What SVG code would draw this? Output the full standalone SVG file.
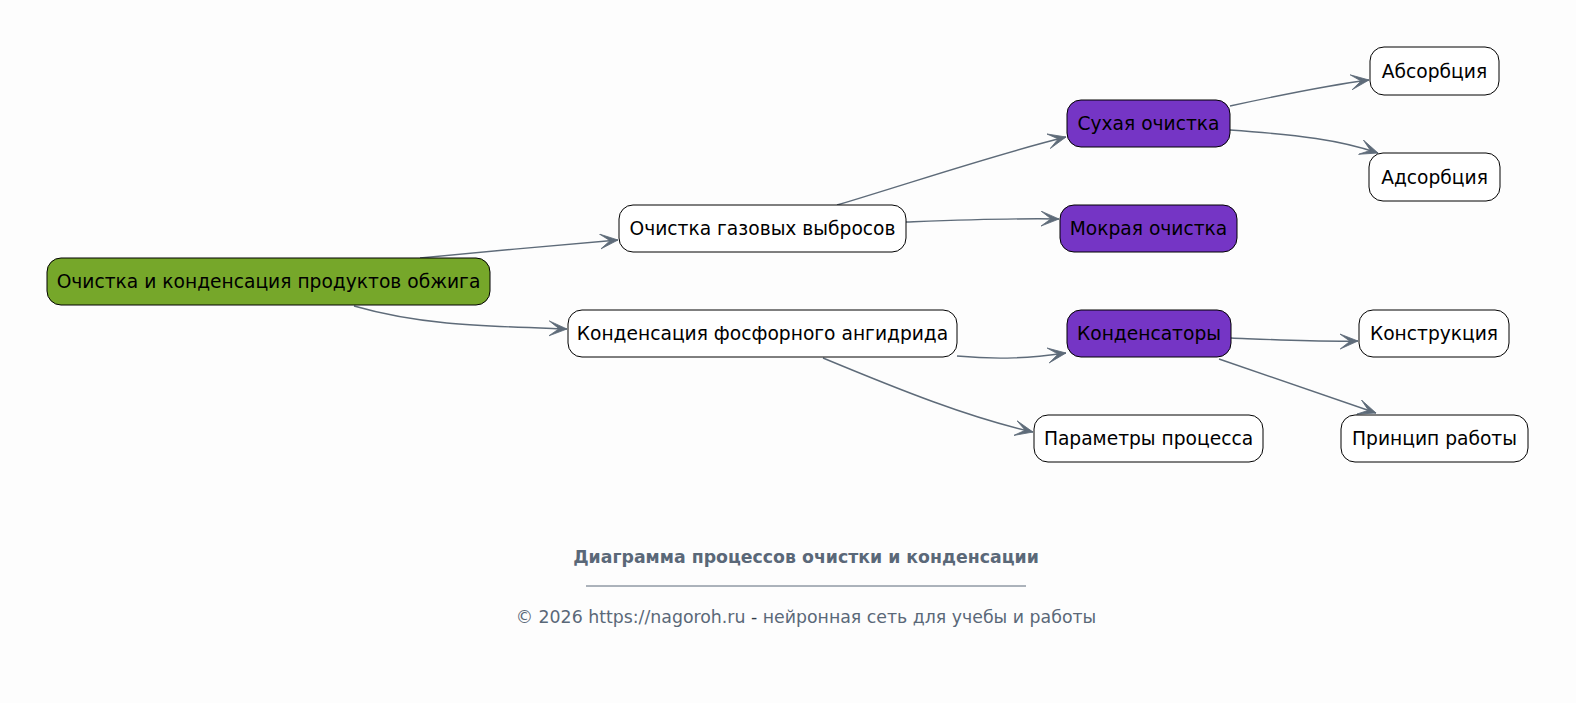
<svg xmlns="http://www.w3.org/2000/svg" width="1576" height="703" viewBox="0 0 1576 703">
<style>
.bg{fill:#fdfdfd}
.n rect{stroke:#000;stroke-width:1}
.w rect{fill:#fff}
.g rect{fill:#76a72a}
.p rect{fill:#7535c5}
.n text{font-family:"DejaVu Sans",sans-serif;font-size:18.67px;fill:#000;text-anchor:middle;dominant-baseline:central}
.e path{fill:none;stroke:#5e6b79;stroke-width:1.4}
.t{font-family:"DejaVu Sans",sans-serif;fill:#5a6878;text-anchor:middle;font-size:17.33px}
</style>
<defs>
<marker id="ah" markerUnits="userSpaceOnUse" markerWidth="20" markerHeight="18" refX="18" refY="8" orient="auto">
<path d="M18,8 L0,0.5 L10,8 L0,15.5 Z" fill="#5e6b79" stroke="#5e6b79" stroke-width="0.8" stroke-linejoin="miter"/>
</marker>
</defs>
<rect class="bg" x="0" y="0" width="1576" height="703"/>
<g id="edges" class="e">
<path d="M420,258 C480,252 560,245 618,240" marker-end="url(#ah)"/>
<path d="M354,306 C420,325 480,326 567,329" marker-end="url(#ah)"/>
<path d="M837,205 C920,180 1000,153 1066,137" marker-end="url(#ah)"/>
<path d="M906,222 C960,220 1010,218 1059,219" marker-end="url(#ah)"/>
<path d="M1230,106 C1290,93 1330,85 1369,80" marker-end="url(#ah)"/>
<path d="M1230,130 C1300,135 1340,140 1378,153" marker-end="url(#ah)"/>
<path d="M957,356 C1000,360 1030,358 1066,353" marker-end="url(#ah)"/>
<path d="M823,358 C900,390 970,418 1033,432" marker-end="url(#ah)"/>
<path d="M1231,338 C1280,340 1320,342 1358,341" marker-end="url(#ah)"/>
<path d="M1219,359 C1280,380 1330,397 1376,413" marker-end="url(#ah)"/>
</g>
<g id="n-root" class="n g"><rect x="47" y="258" width="443" height="47" rx="14"/><text x="268.5" y="281.5">Очистка и конденсация продуктов обжига</text></g>
<g id="n-gas" class="n w"><rect x="619" y="205" width="287" height="47" rx="14"/><text x="762.5" y="228.5">Очистка газовых выбросов</text></g>
<g id="n-cond" class="n w"><rect x="568" y="310" width="389" height="47" rx="14"/><text x="762.5" y="333.5">Конденсация фосфорного ангидрида</text></g>
<g id="n-dry" class="n p"><rect x="1067" y="100" width="163" height="47" rx="14"/><text x="1148.5" y="123.5">Сухая очистка</text></g>
<g id="n-wet" class="n p"><rect x="1060" y="205" width="177" height="47" rx="14"/><text x="1148.5" y="228.5">Мокрая очистка</text></g>
<g id="n-condensers" class="n p"><rect x="1067" y="310" width="164" height="47" rx="14"/><text x="1149" y="333.5">Конденсаторы</text></g>
<g id="n-params" class="n w"><rect x="1034" y="415" width="229" height="47" rx="14"/><text x="1148.5" y="438.5">Параметры процесса</text></g>
<g id="n-abs" class="n w"><rect x="1370" y="47" width="129" height="48" rx="14"/><text x="1434.5" y="71">Абсорбция</text></g>
<g id="n-ads" class="n w"><rect x="1369" y="153" width="131" height="48" rx="14"/><text x="1434.5" y="177">Адсорбция</text></g>
<g id="n-constr" class="n w"><rect x="1359" y="310" width="150" height="47" rx="14"/><text x="1434" y="333.5">Конструкция</text></g>
<g id="n-princ" class="n w"><rect x="1341" y="415" width="187" height="47" rx="14"/><text x="1434.5" y="438.5">Принцип работы</text></g>
<g id="footer">
<text class="t" x="806" y="563" font-weight="bold">Диаграмма процессов очистки и конденсации</text>
<line x1="586" y1="586" x2="1026" y2="586" stroke="#5a6878" stroke-width="1"/>
<text class="t" x="806" y="623">© 2026 https://nagoroh.ru <tspan fill="#2f3a46">-</tspan> нейронная сеть для учебы и работы</text>
</g>
</svg>
